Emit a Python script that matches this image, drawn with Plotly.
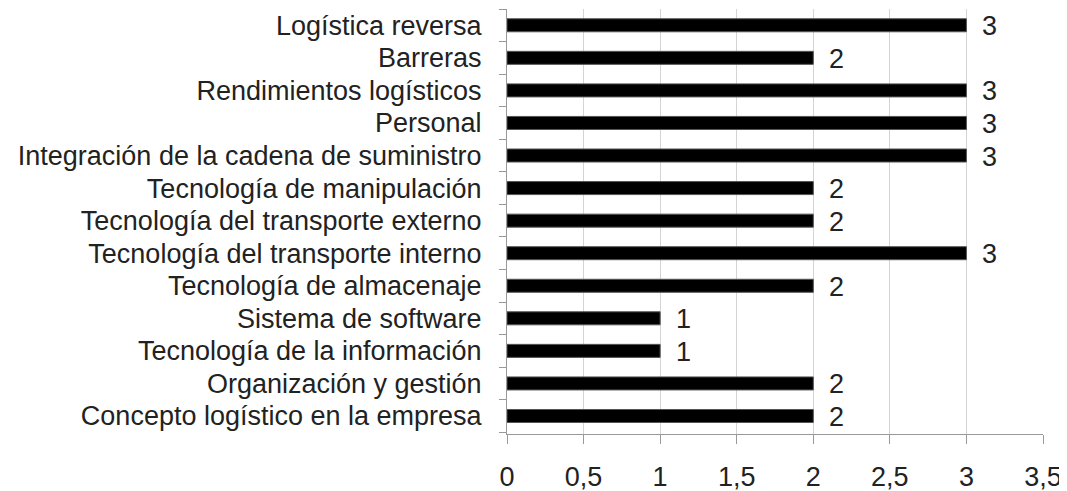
import plotly.graph_objects as go

categories = [
    "Logística reversa",
    "Barreras",
    "Rendimientos logísticos",
    "Personal",
    "Integración de la cadena de suministro",
    "Tecnología de manipulación",
    "Tecnología del transporte externo",
    "Tecnología del transporte interno",
    "Tecnología de almacenaje",
    "Sistema de software",
    "Tecnología de la información",
    "Organización y gestión",
    "Concepto logístico en la empresa",
]
values = [3, 2, 3, 3, 3, 2, 2, 3, 2, 1, 1, 2, 2]
tick_vals = [0, 0.5, 1, 1.5, 2, 2.5, 3, 3.5]
tick_text = ["0", "0,5", "1", "1,5", "2", "2,5", "3", "3,5"]

cats_plot = categories[::-1]
vals_plot = values[::-1]

FONT = "Liberation Sans, Arial"
FS = 27

fig = go.Figure()
fig.add_trace(go.Bar(
    y=cats_plot, x=vals_plot, orientation="h",
    marker=dict(color="black", line=dict(color="#555", width=1)),
    hoverinfo="skip",
))
for c, v in zip(cats_plot, vals_plot):
    fig.add_annotation(x=v, y=c, text=str(v), showarrow=False,
                       xanchor="left", xshift=14, yshift=-1,
                       font=dict(size=FS, color="#222", family=FONT))

fig.update_layout(
    width=1059, height=483,
    margin=dict(l=499, r=24, t=1, b=57, autoexpand=False),
    paper_bgcolor="white", plot_bgcolor="white",
    bargap=0.6,
    showlegend=False,
    font=dict(family=FONT, size=FS, color="#222"),
)
fig.update_xaxes(
    range=[0, 3.5], tickvals=tick_vals, ticktext=tick_text,
    showgrid=True, gridcolor="#d4d4d4", gridwidth=1,
    showline=True, linecolor="#999", linewidth=1,
    ticks="outside", ticklen=9, tickcolor="#999",
    tickfont=dict(size=FS, color="#222"), zeroline=False,
    automargin=False, ticklabelstandoff=10,
)
fig.update_yaxes(
    categoryorder="array", categoryarray=cats_plot,
    showline=True, linecolor="#999", linewidth=1,
    ticks="outside", ticklen=7, tickcolor="#999", tickson="boundaries",
    tickfont=dict(size=FS, color="#222"), ticklabelstandoff=19,
    showgrid=False, automargin=False,
)
fig.write_html("out.html")
